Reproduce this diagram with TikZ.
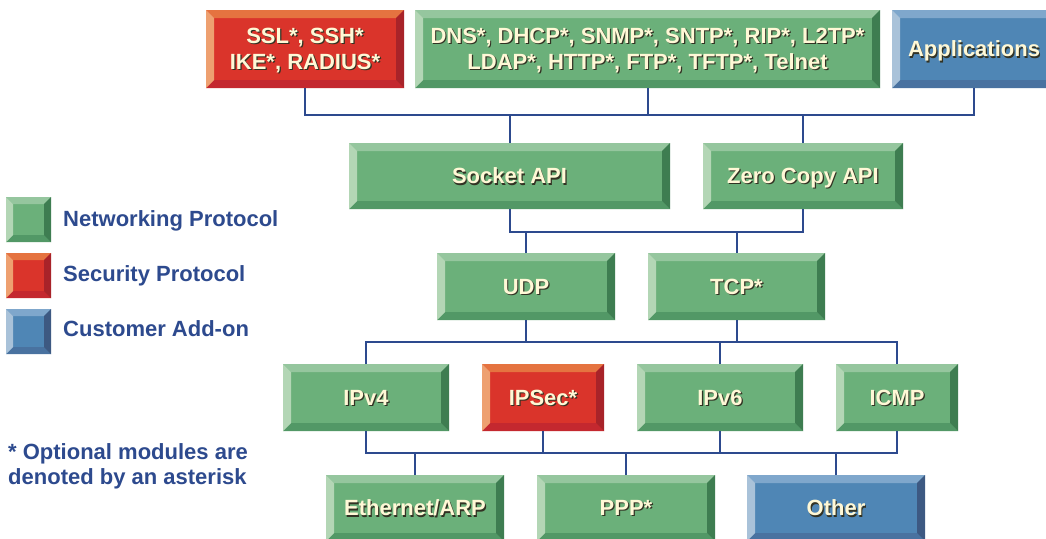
\documentclass[tikz,border=0pt]{standalone}
\usepackage{fontspec}
\setmainfont{Liberation Sans}
\definecolor{gface}{RGB}{107,176,122}
\definecolor{gtop}{RGB}{149,198,158}
\definecolor{gleft}{RGB}{179,214,181}
\definecolor{gright}{RGB}{62,125,81}
\definecolor{gbot}{RGB}{82,152,102}
\definecolor{rface}{RGB}{218,52,43}
\definecolor{rtop}{RGB}{229,115,64}
\definecolor{rleft}{RGB}{238,160,112}
\definecolor{rright}{RGB}{168,35,41}
\definecolor{rbot}{RGB}{196,40,47}
\definecolor{bface}{RGB}{79,134,181}
\definecolor{btop}{RGB}{127,167,204}
\definecolor{bleft}{RGB}{169,194,217}
\definecolor{bright}{RGB}{61,89,130}
\definecolor{bbot}{RGB}{73,114,160}
\definecolor{tcream}{RGB}{255,248,214}
\definecolor{tshadow}{RGB}{50,50,35}
\definecolor{lineblue}{RGB}{45,74,142}
\newcommand\nd[1]{\raisebox{0pt}[\height][0pt]{#1}}
\newcommand\sht[1]{\nd{\rlap{\kern1.2pt\raisebox{-1.2pt}{\color{tshadow}#1}}{\color{tcream}#1}}}
\newcommand\bbox[7]{\node[#2, minimum width={#5-#3}, minimum height={#6-#4}] (#1) at (#3,#4) {#7};}
\tikzset{
  bw/.store in=\bevw, bw=8pt,
  bev/.style n args={5}{fill=#1, path picture={
    \path (path picture bounding box.north west) coordinate (pNW)
          (path picture bounding box.north east) coordinate (pNE)
          (path picture bounding box.south west) coordinate (pSW)
          (path picture bounding box.south east) coordinate (pSE);
    \fill[#2] (pNW) -- (pNE) -- ([shift={(-\bevw,-\bevw)}]pNE) -- ([shift={(\bevw,-\bevw)}]pNW) -- cycle;
    \fill[#5] (pSW) -- (pSE) -- ([shift={(-\bevw,\bevw)}]pSE) -- ([shift={(\bevw,\bevw)}]pSW) -- cycle;
    \fill[#3] (pNW) -- ([shift={(\bevw,-\bevw)}]pNW) -- ([shift={(\bevw,\bevw)}]pSW) -- (pSW) -- cycle;
    \fill[#4] (pNE) -- ([shift={(-\bevw,-\bevw)}]pNE) -- ([shift={(-\bevw,\bevw)}]pSE) -- (pSE) -- cycle;
  }},
  box/.style={anchor=north west, inner sep=0pt, outer sep=0pt, align=center,
    font=\fontsize{22}{26}\selectfont\bfseries},
  gbox/.style={box, bev={gface}{gtop}{gleft}{gright}{gbot}},
  rbox/.style={box, bev={rface}{rtop}{rleft}{rright}{rbot}},
  bbx/.style={box, bev={bface}{btop}{bleft}{bright}{bbot}},
  conn/.style={draw=lineblue, line width=2pt},
  legtext/.style={anchor=west, inner sep=0pt, text=lineblue,
    font=\fontsize{22}{26}\selectfont\bfseries},
}
\begin{document}
\begin{tikzpicture}[x=1pt, y=-1pt]
\useasboundingbox (0,0) rectangle (1046,538);
\clip (0,0) rectangle (1046,538);
\fill[white] (0,0) rectangle (1046,538);
\coordinate (L1) at (0,115);
\coordinate (L2) at (0,232);
\coordinate (L3) at (0,342);
\coordinate (L4) at (0,453);
% row 1
\bbox{ssl}{rbox}{206}{10}{404}{88}{\sht{SSL*, SSH*}\\\sht{IKE*, RADIUS*}}
\bbox{dns}{gbox}{415}{10}{880}{88}{\sht{DNS*, DHCP*, SNMP*, SNTP*, RIP*, L2TP*}\\\sht{LDAP*, HTTP*, FTP*, TFTP*, Telnet}}
\bbox{apps}{bbx}{892}{10}{1056}{88}{\sht{Applications}}
% row 2
\bbox{socket}{gbox}{349}{143}{670}{209}{\sht{Socket API}}
\bbox{zcopy}{gbox}{703}{143}{903}{209}{\sht{Zero Copy API}}
% row 3
\bbox{udp}{gbox}{437}{253}{615}{320}{\sht{UDP}}
\bbox{tcp}{gbox}{648}{253}{825}{320}{\sht{TCP*}}
% row 4
\bbox{ipv4}{gbox}{283}{364}{449}{431}{\sht{IPv4}}
\bbox{ipsec}{rbox}{482}{364}{604}{431}{\sht{IPSec*}}
\bbox{ipv6}{gbox}{637}{364}{803}{431}{\sht{IPv6}}
\bbox{icmp}{gbox}{836}{364}{958}{431}{\sht{ICMP}}
% row 5
\bbox{eth}{gbox}{326}{475}{504}{541}{\sht{Ethernet/ARP}}
\bbox{ppp}{gbox}{537}{475}{715}{541}{\sht{PPP*}}
\bbox{other}{bbx}{747}{475}{925}{541}{\sht{Other}}
% legend
\bbox{lg}{gbox,bw=7pt}{6}{197}{51}{242}{}
\bbox{lr}{rbox,bw=7pt}{6}{253}{51}{298}{}
\bbox{lb}{bbx,bw=7pt}{6}{309}{51}{354}{}
\node[legtext] (tg) at (63,219) {\nd{Networking Protocol}};
\node[legtext] (tr) at (63,274) {\nd{Security Protocol}};
\node[legtext] (tb) at (63,329) {\nd{Customer Add-on}};
\node[legtext] (n1) at (8,452) {\nd{* Optional modules are}};
\node[legtext] (n2) at (8,477) {\nd{denoted by an asterisk}};
% connectors
\draw[conn] (ssl.south) |- (apps.south |- L1) -- (apps.south);
\draw[conn] (dns.south) -- (dns.south |- L1);
\draw[conn] (socket.north) -- (socket.north |- L1);
\draw[conn] (zcopy.north) -- (zcopy.north |- L1);
\draw[conn] (socket.south) |- (zcopy.south |- L2) -- (zcopy.south);
\draw[conn] (udp.north) -- (udp.north |- L2);
\draw[conn] (tcp.north) -- (tcp.north |- L2);
\draw[conn] (ipv4.north) |- (icmp.north |- L3) -- (icmp.north);
\draw[conn] (ipv6.north) -- (ipv6.north |- L3);
\draw[conn] (udp.south) -- (udp.south |- L3);
\draw[conn] (tcp.south) -- (tcp.south |- L3);
\draw[conn] (ipv4.south) |- (icmp.south |- L4) -- (icmp.south);
\draw[conn] (ipsec.south) -- (ipsec.south |- L4);
\draw[conn] (ipv6.south) -- (ipv6.south |- L4);
\draw[conn] (eth.north) -- (eth.north |- L4);
\draw[conn] (ppp.north) -- (ppp.north |- L4);
\draw[conn] (other.north) -- (other.north |- L4);
\end{tikzpicture}
\end{document}
